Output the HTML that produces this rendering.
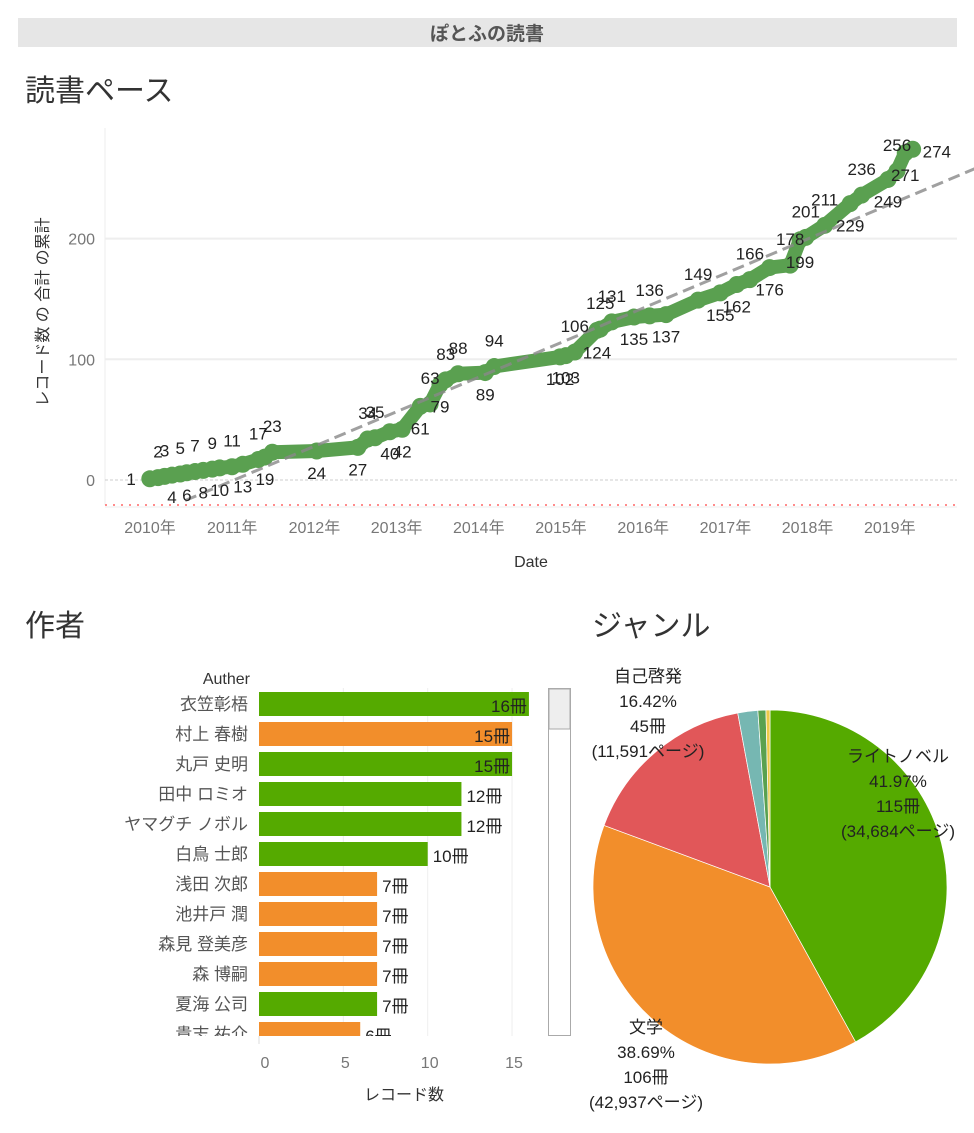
<!DOCTYPE html>
<html><head><meta charset="utf-8">
<style>
html,body{margin:0;padding:0;background:#fff;}
svg{display:block;font-family:"Liberation Sans","Noto Sans CJK JP",sans-serif;}
</style></head>
<body>
<svg id="root" width="974" height="1133" viewBox="0 0 974 1133" xmlns="http://www.w3.org/2000/svg">
  <rect x="18" y="18" width="939" height="29" fill="#e6e6e6"/>
  <text x="487" y="40" text-anchor="middle" font-size="19" font-weight="bold" fill="#555">ぽとふの読書</text>
  <text x="25" y="101" font-size="30" fill="#333">読書ペース</text>
  <text x="25" y="636" font-size="30" fill="#333">作者</text>
  <text x="592" y="636" font-size="30" fill="#333">ジャンル</text>
  <g id="line"></g>
  <g id="bars"></g>
  <g id="pie"></g>
</svg>
<script>
const NS="http://www.w3.org/2000/svg";
// ---- line chart data ----
const paceDates=[2010.01,2010.11,2010.19,2010.28,2010.38,2010.46,2010.56,2010.66,2010.77,2010.86,2011.01,2011.14,2011.33,2011.41,2011.50,2012.04,2012.54,2012.66,2012.75,2012.93,2013.08,2013.30,2013.42,2013.54,2013.61,2013.76,2014.09,2014.20,2015.00,2015.07,2015.18,2015.45,2015.49,2015.63,2015.90,2016.09,2016.29,2016.68,2016.95,2017.15,2017.31,2017.55,2017.80,2017.92,2017.99,2018.22,2018.53,2018.67,2018.99,2019.10,2019.20,2019.29];
const paceValues=[1,2,3,4,5,6,7,8,9,10,11,13,17,19,23,24,27,34,35,40,42,61,63,79,83,88,89,94,102,103,106,124,125,131,135,136,137,149,155,162,166,176,178,199,201,211,229,236,249,256,271,274];
const paceLabelSide=["l","a","a","b","a","b","a","b","a","b","a","b","a","b","a","b","b","a","a","b","b","b","a","b","a","a","b","a","b","b","a","b","a","a","b","a","b","a","b","b","a","b","a","b","a","a","b","a","b","a","b","r"];
const yearTicks=[2010,2011,2012,2013,2014,2015,2016,2017,2018,2019];
const yTicks=[0,100,200];
const trendStart=[2010.44,-17];
const trendEnd=[2020.05,258];

const xL=d=>149+(d-2010)*82.2;
const yL=v=>480-1.207*v;
function mk(tag,attrs,parent,txt){const e=document.createElementNS(NS,tag);for(const k in attrs)e.setAttribute(k,attrs[k]);if(txt!==undefined)e.textContent=txt;parent.appendChild(e);return e;}

const L=document.getElementById('line');
let ax=mk('line',{x1:105,y1:128,x2:105,y2:505,stroke:'#eee','stroke-width':1},L);


yTicks.forEach(t=>{
  const g=mk('line',{x1:105,x2:957,y1:yL(t),y2:yL(t),stroke:t===0?'#ccc':'#eee','stroke-width':t===0?1:2,'stroke-dasharray':t===0?'3,2':''},L);
  
  
  const tl=mk('text',{x:95,y:yL(t)+6,'text-anchor':'end','font-size':16,fill:'#777'},L,String(t));
  
  
});
const rug=mk('line',{x1:105,x2:957,y1:505,y2:505,stroke:'#f66','stroke-width':1.5,'stroke-dasharray':'2,6'},L);


const axb=mk('line',{x1:105,x2:957,y1:507,y2:507,stroke:'#eee','stroke-width':1},L);


yearTicks.forEach(y=>{
  const t=mk('text',{x:xL(y)+1,y:533,'text-anchor':'middle','font-size':16,fill:'#777'},L,y+'年');
  
  
});
const xt=mk('text',{x:531,y:567,'text-anchor':'middle','font-size':16,fill:'#333'},L,'Date');


const yt=mk('text',{x:0,y:0,transform:'translate(48,312) rotate(-90)','text-anchor':'middle','font-size':16,fill:'#333'},L,'レコード数 の 合計 の累計');


let pd=paceDates.map((d,i)=>(i?'L':'M')+xL(d).toFixed(1)+','+yL(paceValues[i]).toFixed(1)).join(' ');
const pl=mk('path',{d:pd,fill:'none',stroke:'#5aa050','stroke-width':14,'stroke-linejoin':'round','stroke-linecap':'round'},L);


paceDates.forEach((d,i)=>{
  const c=mk('circle',{cx:xL(d),cy:yL(paceValues[i]),r:8.5,fill:'#5aa050'},L);
  
  
});
const tr=mk('line',{x1:xL(trendStart[0]),y1:yL(trendStart[1]),x2:xL(trendEnd[0]),y2:yL(trendEnd[1]),stroke:'#888','stroke-opacity':0.8,'stroke-width':3,'stroke-dasharray':'12,6'},L);


paceDates.forEach((d,i)=>{
  const s=paceLabelSide[i];let x=xL(d),y=yL(paceValues[i]),a='middle';
  if(s==='a')y-=20; else if(s==='b')y+=28; else if(s==='l'){x-=14;y+=6;a='end';} else {x+=10;y+=8;a='start';}
  const t=mk('text',{x:x,y:y,'text-anchor':a,'font-size':17,fill:'#222'},L,String(paceValues[i]));
  
  
});

// ---- bar chart ----
const authors=["衣笠彰梧","村上 春樹","丸戸 史明","田中 ロミオ","ヤマグチ ノボル","白鳥 士郎","浅田 次郎","池井戸 潤","森見 登美彦","森 博嗣","夏海 公司","貴志 祐介"];
const authorCounts=[16,15,15,12,12,10,7,7,7,7,7,6];
const authorGenre=["ln","lit","ln","ln","ln","ln","lit","lit","lit","lit","ln","lit"];
const barTicks=[0,5,10,15];
const B=document.getElementById('bars');
const xB=v=>259+v*16.87;
mk('defs',{},B).innerHTML='<clipPath id="bclip"><rect x="0" y="688" width="545" height="348"/></clipPath>';
barTicks.forEach(t=>{
  if(t>0){const g=mk('line',{x1:xB(t),x2:xB(t),y1:688,y2:1036,stroke:'#eee','stroke-width':1},B);
  
  }
  const tl=mk('text',{x:xB(t)+(t?2:6),y:1068,'text-anchor':'middle','font-size':16,fill:'#777'},B,String(t));
  
  
});
const bz=mk('line',{x1:259,x2:259,y1:1036,y2:1044,stroke:'#ddd'},B);


const ah=mk('text',{x:250,y:684,'text-anchor':'end','font-size':16,fill:'#333'},B,'Auther');


const bg=mk('g',{'clip-path':'url(#bclip)'},B);
authors.forEach((n,i)=>{
  const top=692+i*30, v=authorCounts[i], col=authorGenre[i]==='ln'?'#55aa00':'#f28e2b';
  const r=mk('rect',{x:259,y:top,width:xB(v)-259,height:24,fill:col},bg);
  
  
  const lb=mk('text',{x:248,y:top+18,'text-anchor':'end','font-size':17,fill:'#555'},bg,n);
  
  
  const inside=v>=15;
  const vl=mk('text',{x:inside?xB(v)-2:xB(v)+5,y:top+20,'text-anchor':inside?'end':'start','font-size':17,fill:'#222'},bg,v+'冊');
  
  
});
const sb=mk('rect',{x:548.5,y:688.5,width:22,height:347,fill:'#fff',stroke:'#aaa'},B);


const st=mk('rect',{x:549,y:689,width:21,height:40,fill:'#eee',stroke:'#aaa'},B);


const bt=mk('text',{x:404,y:1100,'text-anchor':'middle','font-size':16,fill:'#333'},B,'レコード数');



// ---- pie chart ----
const genres=["ライトノベル","文学","自己啓発","その他A","その他B","その他C"];
const genreCounts=[115,106,45,5,2,1];
const genrePages=["34,684","42,937","11,591","","",""];
const P=document.getElementById('pie');
const cx=770,cy=887,R=177;
const colors=['#55aa00','#f28e2b','#e15759','#76b7b2','#59a14f','#edc948'];
const total=genreCounts.reduce((a,b)=>a+b,0);
let ang=0;
genreCounts.forEach((c,i)=>{
  const a0=ang,a1=ang+c/total*2*Math.PI;ang=a1;
  const p=(a)=>[cx+R*Math.sin(a),cy-R*Math.cos(a)];
  const s=p(a0),e=p(a1);
  const sl=mk('path',{d:`M${cx},${cy} L${s[0]},${s[1]} A${R},${R} 0 ${a1-a0>Math.PI?1:0} 1 ${e[0]},${e[1]} Z`,fill:colors[i],stroke:'#fff','stroke-width':0.7},P);
  
  
});
const pieLabelPos=[[898,762],[646,1033],[648,682]];
[0,1,2].forEach(i=>{
  const [x,y]=pieLabelPos[i];
  const pct=(genreCounts[i]/total*100).toFixed(2)+'%';
  const lines=[genres[i],pct,genreCounts[i]+'冊','('+genrePages[i]+'ページ)'];
  lines.forEach((t,k)=>{
    const el=mk('text',{x:x,y:y+k*25,'text-anchor':'middle','font-size':17,fill:'#222'},P,t);
    
    
  });
});
</script>
</body></html>
